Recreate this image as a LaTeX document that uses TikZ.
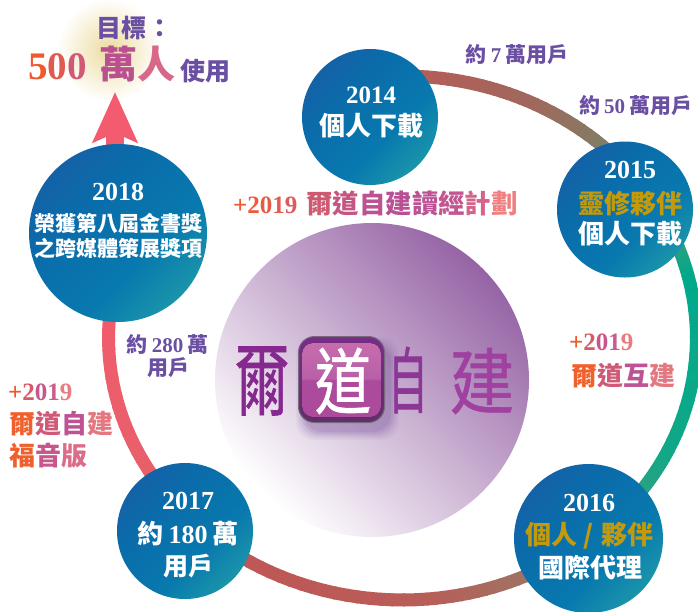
\documentclass[tikz,border=0pt]{standalone}
\usepackage{fontspec}
\usetikzlibrary{arrows.meta}
\newfontfamily\cjk{Noto Sans CJK TC}
\newfontfamily\brushfont[FakeBold=0.9]{Noto Sans CJK TC}
\newfontfamily\sr{Liberation Serif}
\newcommand{\sz}[1]{\fontsize{#1}{#1}\selectfont}
\newcommand{\nm}[1]{{\sr\bfseries #1}}
\newcommand{\hue}[2]{\textcolor[HTML]{#1}{#2}}
\definecolor{vio}{HTML}{6A4FA3}
\definecolor{gold}{HTML}{C29A0C}
\definecolor{orbA}{HTML}{1B5AA4}
\definecolor{orbB}{HTML}{0A6CAA}
\definecolor{orbM}{HTML}{0879AE}
\definecolor{orbC}{HTML}{26A6A8}
\definecolor{arrowred}{HTML}{F25C6E}
\definecolor{boxA}{HTML}{D67AB2}
\definecolor{boxB}{HTML}{B860A8}
\definecolor{boxC}{HTML}{AC4A9C}
\definecolor{boxD}{HTML}{BC5CA8}
\pgfdeclareverticalshading{orbsh}{100bp}{color(0bp)=(orbC); color(15bp)=(orbC); color(40bp)=(orbM); color(62bp)=(orbB); color(85bp)=(orbA); color(100bp)=(orbA)}
\pgfdeclareverticalshading{boxsh}{100bp}{color(0bp)=(boxD); color(12bp)=(boxC); color(50bp)=(boxC); color(51bp)=(boxB); color(100bp)=(boxA)}
\pgfdeclarelayer{back}
\pgfsetlayers{back,main}
\tikzset{
  orb/.style={circle,inner sep=0,draw=none,shading=orbsh,shading angle=45},
  lbl/.style={inner sep=0,font=\cjk\bfseries,text=white},
  cj/.style={lbl,yshift=-1pt},
  ringseg/.style={line width=13,line cap=butt},
  brush/.style={inner sep=0,font=\brushfont},
}
\begin{document}
\begin{tikzpicture}[x=1pt,y=-1pt]
\useasboundingbox (0,0) rectangle (698,611);
\node (n2018) [orb,minimum size=178] at (118,233) {};
\node (n2014) [orb,minimum size=136] at (370,117) {};
\node (n2015) [orb,minimum size=136] at (625,209.5) {};
\node (n2016) [orb,minimum size=149] at (588.5,538.5) {};
\node (n2017) [orb,minimum size=136] at (185,531) {};
\coordinate (goal) at (115,92);
\begin{pgfonlayer}{back}
\fill[white] (0,0) rectangle (698,611);
\node (glow) [circle,minimum size=104,inner sep=0,inner color={rgb,255:red,236;green,220;blue,160},outer color=white] at (109,50) {};
\foreach \from/\to/\ca/\cb in {-92/-65/B85A58/A0685C,-65/-30/A0685C/5F9470,-30/-14/5F9470/00A98A,-14/25/00A98A/10A888,25/40/10A888/35A080,40/52/35A080/90806A,52/85/90806A/B95D58,85/130/B95D58/C05555,130/150/C05555/E85F6A,150/192/E85F6A/F25C6E}{
  \definecolor{ca}{HTML}{\ca}\definecolor{cb}{HTML}{\cb}
  \foreach \p in {0,5,...,95}{
    \pgfmathsetmacro\s{\from+(\to-\from)*\p/100}
    \pgfmathsetmacro\e{\from+(\to-\from)*(\p+6)/100}
    \draw[ringseg,cb!\p!ca] ({402.5+294*cos(\s)},{338+262*sin(\s)}) -- ({402.5+294*cos(\e)},{338+262*sin(\e)});
  }
}
\draw[arrowred,line width=18,-{Stealth[length=50,width=44,inset=9]}] (n2018.center -| goal) -- (goal);
\node (disc) [circle,minimum size=314,inner sep=0,top color={rgb,255:red,150;green,100;blue,165},bottom color=white,shading angle=-45] at (372,380) {};
\end{pgfonlayer}
% goal text
\node (g1) [cj,text=vio,anchor=west] at (96,26.5) {\sz{25}目標\kern1pt：};
\node (g2) [lbl,anchor=west] at (28,67) {\sz{39}\nm{\hue{F0592B}{5}\hue{E05A50}{0}\hue{D05A74}{0}}};
\node (g3) [cj,anchor=west] at (99,63.5) {\sz{38}\hue{B9508F}{萬}\hue{D8678A}{人}};
\node (g4) [cj,text=vio,anchor=west] at (180,70) {\sz{25}使用};
% circle text
\node (a1) [lbl] at (371,95) {\sz{25}\nm{2014}};
\node (a2) [cj] at (371,125) {\sz{26}個人下載};
\node (b1) [lbl] at (630,170) {\sz{26}\nm{2015}};
\node (b2) [cj,text=gold] at (630,203) {\sz{26}靈修夥伴};
\node (b3) [cj] at (630,233) {\sz{26}個人下載};
\node (c1) [lbl] at (589,503) {\sz{26}\nm{2016}};
\node (c2) [cj,text=gold] at (589,535) {\sz{26}個人\kern7pt{\cjk\bfseries /}\kern7pt夥伴};
\node (c3) [cj] at (590,567) {\sz{26}國際代理};
\node (d1) [lbl] at (188,501) {\sz{26}\nm{2017}};
\node (d2) [cj] at (188,533) {\sz{26}約\kern5pt\nm{180}\kern5pt萬};
\node (d3) [cj] at (188,565) {\sz{25}用戶};
\node (e1) [lbl] at (118,192) {\sz{26}\nm{2018}};
\node (e2) [cj] at (118,222) {\sz{21}榮獲第八屆金書獎};
\node (e3) [cj] at (118,247) {\sz{21}之跨媒體策展獎項};
% user counts
\node (u1) [cj,text=vio] at (517,53.5) {\sz{21}約\kern4pt\nm{7}\kern4pt萬用戶};
\node (u2) [cj,text=vio] at (635.5,104.5) {\sz{21}約\kern4pt\nm{50}\kern4pt萬用戶};
\node (u3) [cj,text=vio] at (167.5,343) {\sz{21}約\kern4pt\nm{280}\kern4pt萬};
\node (u4) [cj,text=vio] at (168,367) {\sz{21}用戶};
% +2019 labels
\node (p0) [lbl,anchor=west] at (233,203.5) {\sz{25}\nm{\hue{F0592B}{+}\hue{EE5A3C}{2}\hue{E85A48}{0}\hue{E25A52}{1}\hue{DC5A5C}{9}}\kern9pt\sz{26.4}\hue{CE5A72}{爾}\hue{C55682}{道}\hue{BE5290}{自}\hue{BA5094}{建}\hue{BC5294}{讀}\hue{C25690}{經}\hue{D4648A}{計}\hue{F08080}{劃}};
\node (p1) [lbl,anchor=west] at (8,392) {\sz{25}\nm{\hue{F0592B}{+}\hue{D85A68}{2}\hue{C8568A}{0}\hue{CC5C8A}{1}\hue{E87C80}{9}}};
\node (p2) [cj,anchor=west] at (9,423) {\sz{26}\hue{F0602C}{爾}\hue{CE5A78}{道}\hue{BE5294}{自}\hue{E47880}{建}};
\node (p3) [cj,anchor=west] at (9,455) {\sz{26}\hue{F0602C}{福}\hue{C8568A}{音}\hue{DC6C88}{版}};
\node (p4) [lbl,anchor=west] at (569,342) {\sz{25}\nm{\hue{F0592B}{+}\hue{D85A68}{2}\hue{C8568A}{0}\hue{CC5C8A}{1}\hue{E87C80}{9}}};
\node (p5) [cj,anchor=west] at (571,375) {\sz{26}\hue{F0602C}{爾}\hue{CE5A78}{道}\hue{BE5294}{互}\hue{E47880}{建}};
% logo
\foreach \k/\o in {8/.05,6/.07,4/.09,2/.11,0/.13}{
  \fill[rounded corners=18,fill={rgb,255:red,110;green,70;blue,150},opacity=\o] (298-\k+6,336-\k+9) rectangle (385+\k+6,423+\k+9);
}
\node (box) [draw={rgb,255:red,120;green,105;blue,125},line width=1,rounded corners=16,minimum size=86,inner sep=0,top color={rgb,255:red,120;green,45;blue,135},bottom color={rgb,255:red,96;green,48;blue,106}] at (341.5,379.5) {};
\fill[rounded corners=11,shading=boxsh] (302,343) rectangle (381,417);
\node (z1) [brush,text={rgb,255:red,133;green,40;blue,143}] at (262,381) {\sz{80}\scalebox{.68}[1]{爾}};
\node (z2) [brush,text=white] at (343,381) {\sz{72}\scalebox{.78}[1]{道}};
\node (z3) [brush,text={rgb,255:red,140;green,55;blue,150}] at (408,380) {\sz{72}\scalebox{.55}[1]{自}};
\node (z4) [brush,text={rgb,255:red,160;green,64;blue,160}] at (482,381) {\sz{72}\scalebox{.9}[1]{建}};
\end{tikzpicture}
\end{document}
